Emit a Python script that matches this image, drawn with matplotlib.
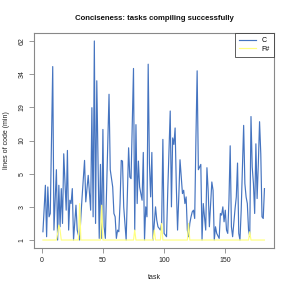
import numpy as np
import matplotlib
matplotlib.use("Agg")
import matplotlib.pyplot as plt

# ---- data ----
c_tasks = [1, 3, 4, 5, 6, 7, 9, 10, 12, 13, 14, 15, 16, 17, 18, 20, 21, 22, 23, 24,
           25, 26, 28, 29, 31, 32, 33, 35, 36, 38, 40, 41, 42, 43, 44, 45, 46, 47, 48, 49,
           50, 51, 52, 55, 56, 58, 59, 60, 61, 62, 63, 64, 65, 66, 67, 69, 71, 72, 73, 75,
           76, 77, 78, 79, 80, 82, 83, 84, 85, 86, 87, 88, 89, 90, 91, 93, 94, 95, 97, 98,
           99, 100, 102, 103, 105, 106, 107, 108, 109, 110, 111, 112, 113, 115, 116, 117, 118, 119, 120, 121,
           122, 123, 124, 125, 126, 127, 128, 130, 131, 132, 133, 134, 135, 136, 137, 138, 139, 140, 141, 142,
           143, 145, 146, 147, 148, 149, 150, 151, 152, 153, 154, 155, 156, 158, 159, 160, 161, 162, 163, 164,
           165, 166, 167, 168, 169, 170, 171, 172, 173, 174, 175, 176, 177, 178, 179, 180, 181, 182]
c_lines = [1.5, 4.3, 1.2, 4.2, 2.4, 2.6, 40.4, 1.6, 5.6, 1.0, 4.3, 1.8, 4.1, 2.0, 8.0, 2.8, 8.5, 1.6, 3.4, 3.2,
           4.1, 1.0, 3.1, 1.6, 1.0, 2.4, 3.6, 7.0, 3.3, 4.9, 2.8, 18.9, 2.4, 62, 2.0, 31, 6.6, 1.1, 6.4, 1.1,
           13, 1.8, 1.1, 24.9, 5.6, 4.2, 2.6, 2.4, 1.1, 1.6, 1.5, 3.2, 7.0, 6.9, 3.0, 1.0, 8.9, 4.8, 4.7, 38.8,
           1.6, 14.3, 3.2, 6.9, 4.2, 3.4, 8.2, 1.0, 3.0, 2.4, 42.4, 6.6, 3.6, 8.2, 1.0, 3.0, 2.2, 1.8, 1.6, 2.0,
           10.3, 1.4, 1.2, 4.0, 18, 3.0, 10.7, 9.4, 13.4, 4.2, 1.6, 3.6, 7.1, 3.8, 4.0, 3.2, 3.6, 1.6, 1.2, 2.0,
           2.4, 2.7, 2.8, 2.3, 10.3, 36.8, 5.6, 6.4, 1.0, 3.2, 2.4, 1.6, 5.9, 4.0, 1.8, 3.2, 4.5, 4.0, 1.0, 1.8,
           1.4, 1.1, 2.6, 2.5, 3.0, 2.1, 2.8, 1.6, 1.4, 3.4, 9.2, 1.8, 1.2, 2.9, 3.6, 6.6, 1.4, 1.0, 2.8, 6.0,
           14.1, 4.4, 3.6, 3.2, 1.6, 1.2, 16.5, 6.0, 4.4, 2.6, 9.5, 3.5, 6.5, 15.1, 8.0, 2.4, 2.3, 4.1]

fs_tasks = [1, 12, 13, 14, 15, 16, 30, 31, 32, 48, 49, 50, 75, 76, 77, 91, 92, 93,
            97, 98, 99, 119, 120, 121, 169, 170, 171, 182]
fs_lines = [1, 1, 1.4, 1.9, 1.6, 1, 1, 3.2, 1, 1, 3.1, 1, 1, 1.6, 1, 1, 1.6, 1,
            1, 2.0, 1, 1, 2.0, 1, 1, 1.5, 1, 1]

y_tick_values = [1, 3, 5, 10, 19, 34, 62]
y_tick_labels = ["1", "3", "5", "10", "19", "34", "62"]
x_ticks = [0, 50, 100, 150]

# ---- axis transform: tick labels are equally spaced ----
tv = np.array(y_tick_values, float)
tp = np.arange(len(tv), dtype=float)


def fwd(v):
    v = np.asarray(v, float)
    p = np.interp(v, tv, tp)
    p = np.where(v < tv[0], (v - tv[0]) / (tv[1] - tv[0]), p)
    p = np.where(v > tv[-1], tp[-1] + (v - tv[-1]) / (tv[-1] - tv[-2]), p)
    return p


def inv(p):
    p = np.asarray(p, float)
    v = np.interp(p, tp, tv)
    v = np.where(p < tp[0], tv[0] + p * (tv[1] - tv[0]), v)
    v = np.where(p > tp[-1], tv[-1] + (p - tp[-1]) * (tv[-1] - tv[-2]), v)
    return v


plt.rcParams['font.family'] = ['Liberation Sans', 'DejaVu Sans']

fig = plt.figure(figsize=(2.91, 2.91), dpi=100)
ax = fig.add_axes([34 / 291, 1 - 248 / 291, 240 / 291, 215 / 291])

blue = '#4574c0'
yellow = '#ffff80'
ax.plot(c_tasks, c_lines, color=blue, lw=0.85, label='C', zorder=2)
ax.plot(fs_tasks, fs_lines, color=yellow, lw=0.85, label='F#', zorder=3)

ax.set_yscale('function', functions=(fwd, inv))
ax.set_ylim(inv(-0.24), inv(6.24))
ax.set_xlim(-6.3, 189.8)

ax.set_yticks(y_tick_values)
ax.set_yticklabels(y_tick_labels, rotation=90, va='center')
ax.yaxis.set_minor_locator(matplotlib.ticker.NullLocator())
ax.set_xticks(x_ticks)
ax.set_xticklabels([str(t) for t in x_ticks])

edge = '#888888'
for s in ax.spines.values():
    s.set_color(edge)
    s.set_linewidth(0.8)
ax.tick_params(axis='both', direction='out', length=3.5, width=0.6, color=edge,
               labelsize=5, labelcolor='#222222', pad=2.5)
ax.tick_params(axis='x', pad=3)

ax.set_xlabel('task', fontsize=5, color='#222222', labelpad=7)
ax.set_ylabel('lines of code (min)', fontsize=5, color='#222222', labelpad=6)
fig.text(0.53, 1 - 18 / 291, 'Conciseness: tasks compiling successfully',
         ha='center', va='center', fontsize=5.6, fontweight='bold', color='#111111')

leg = ax.legend(loc='upper right', fontsize=5, frameon=True, fancybox=False,
                borderaxespad=0, handlelength=2.4, handletextpad=0.8,
                labelspacing=0.25, borderpad=0.6)
leg.get_frame().set_edgecolor('#333333')
leg.get_frame().set_linewidth(0.7)

fig.savefig('out.png', dpi=100)
